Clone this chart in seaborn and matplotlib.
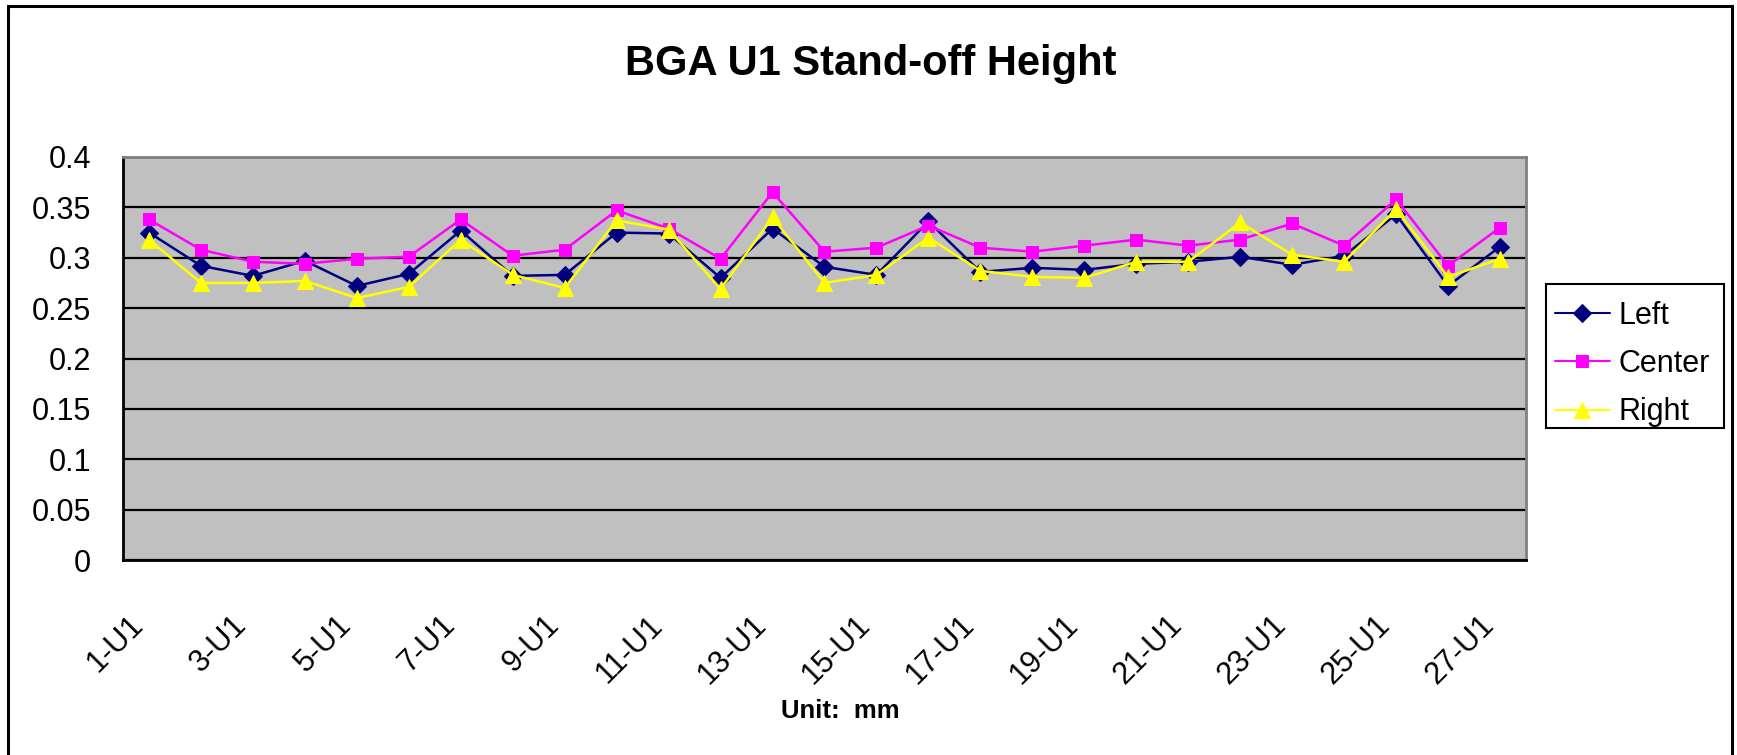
import numpy as np
import pandas as pd
import matplotlib
matplotlib.use("Agg")
import matplotlib.pyplot as plt
import matplotlib.transforms as mtransforms
from matplotlib import font_manager
from matplotlib.patches import Rectangle
from matplotlib.ticker import FixedLocator
import seaborn as sns

# Stand-off height per unit (mm)
categories = [f"{i}-U1" for i in range(1, 28)]
left = [0.325, 0.292, 0.282, 0.297, 0.272, 0.284, 0.327, 0.282, 0.283, 0.325, 0.324,
        0.280, 0.329, 0.291, 0.283, 0.336, 0.286, 0.290, 0.288, 0.294, 0.296, 0.301,
        0.293, 0.302, 0.343, 0.272, 0.311]
center = [0.338, 0.308, 0.296, 0.294, 0.299, 0.301, 0.338, 0.302, 0.308, 0.347, 0.329,
          0.299, 0.365, 0.306, 0.310, 0.332, 0.310, 0.306, 0.312, 0.318, 0.312, 0.318,
          0.334, 0.312, 0.358, 0.292, 0.330]
right = [0.318, 0.275, 0.275, 0.277, 0.260, 0.271, 0.318, 0.283, 0.270, 0.337, 0.328,
         0.269, 0.340, 0.275, 0.283, 0.320, 0.287, 0.281, 0.280, 0.296, 0.296, 0.335,
         0.303, 0.296, 0.348, 0.281, 0.299]
y_ticks = [0, 0.05, 0.1, 0.15, 0.2, 0.25, 0.3, 0.35, 0.4]
y_tick_labels = ["0", "0.05", "0.1", "0.15", "0.2", "0.25", "0.3", "0.35", "0.4"]

series_names = ["Left", "Center", "Right"]
series_values = [left, center, right]
series_colors = ["#000080", "#FF00FF", "#FFFF00"]
series_markers = ["D", "s", "^"]
series_msize = [9, 9, 11]

sns.set_style("white")
plt.rcParams["font.family"] = ["Liberation Sans", "DejaVu Sans"]
plt.rcParams["text.color"] = "black"
plt.rcParams["xtick.color"] = "black"
plt.rcParams["ytick.color"] = "black"
plt.rcParams["axes.labelcolor"] = "black"


def has_font(name):
    try:
        font_manager.findfont(font_manager.FontProperties(family=name),
                              fallback_to_default=False)
        return True
    except Exception:
        return False


narrow = has_font("Liberation Sans Narrow")
head_family = ["Liberation Sans Narrow", "Liberation Sans"] if narrow else ["Liberation Sans"]
title_size = 34 if narrow else 30
xlabel_size = 21 if narrow else 18.5

W, H = 1737, 755
fig = plt.figure(figsize=(W / 100, H / 100), dpi=100)
fig.patch.set_facecolor("white")
ax = fig.add_axes([123 / W, 1 - 560 / H, (1526 - 123) / W, (560 - 157) / H])
ax.set_facecolor("#C0C0C0")

x = np.arange(len(categories))
for name, vals, col, mk, ms in zip(series_names, series_values, series_colors,
                                   series_markers, series_msize):
    sns.lineplot(x=x, y=vals, ax=ax, color=col, marker=mk, markersize=ms,
                 markeredgecolor=col, markerfacecolor=col, linewidth=1.8,
                 label=name, zorder=3)

ax.set_xlim(-0.5, len(categories) - 0.5)
ax.set_ylim(0, 0.4)

# y axis
ax.set_yticks(y_ticks)
ax.set_yticklabels(y_tick_labels)
ax.tick_params(axis="y", direction="out", length=11, width=1.5, color="black",
               labelsize=22, pad=12, labelcolor="black")
ax.grid(axis="y", color="black", linewidth=1.6, zorder=1)
ax.set_axisbelow(True)

# x axis: tick marks at category boundaries, labels on every other category
ax.xaxis.set_minor_locator(FixedLocator(np.arange(len(categories) + 1) - 0.5))
label_pos = x[::2]
ax.set_xticks(label_pos)
ax.set_xticklabels([categories[i] for i in label_pos], rotation=45, ha="right",
                   va="top", rotation_mode="anchor")
ax.tick_params(axis="x", which="major", length=0, labelsize=22, pad=36,
               labelcolor="black")
ax.tick_params(axis="x", which="minor", direction="out", length=11, width=1.5,
               color="black")
shift = mtransforms.ScaledTranslation(-21 / 100, 0, fig.dpi_scale_trans)
for lab in ax.get_xticklabels():
    lab.set_transform(lab.get_transform() + shift)

for side in ["left", "bottom"]:
    ax.spines[side].set_color("black")
    ax.spines[side].set_linewidth(2)
for side in ["top", "right"]:
    ax.spines[side].set_color("#808080")
    ax.spines[side].set_linewidth(2)
ax.set_xlabel("")
ax.set_ylabel("")

# legend entries, boxed by a separate frame drawn beneath them
leg = ax.legend(loc="upper left", bbox_to_anchor=(1546 / W, 1 - 292 / H),
                bbox_transform=fig.transFigure, frameon=False,
                fontsize=22, handlelength=1.8, handletextpad=0.3,
                labelspacing=0.6, borderpad=0.28, borderaxespad=0)
leg.set_zorder(10)
for h in leg.legend_handles:
    h.set_linewidth(1.5)
for t in leg.get_texts():
    t.set_color("black")
ax.add_patch(Rectangle((1546 / W, 1 - 428 / H), (1724 - 1546) / W,
                       (428 - 284) / H, transform=fig.transFigure,
                       facecolor="white", edgecolor="black", linewidth=1.5,
                       clip_on=False, zorder=9))

# titles
fig.text(871 / W, 1 - 64 / H, "BGA U1 Stand-off Height", ha="center",
         va="center", fontsize=title_size, fontweight="bold", family=head_family,
         color="black")
fig.text(840 / W, 1 - 711 / H, "Unit:  mm", ha="center", va="center",
         fontsize=xlabel_size, fontweight="bold", family=head_family, color="black")

# chart border
fig.patches.append(Rectangle((8 / W, -0.05), (1732 - 8) / W, 1.05 - 6 / H,
                             transform=fig.transFigure, fill=False,
                             edgecolor="black", linewidth=2.2))

fig.savefig("out.png", dpi=100)
